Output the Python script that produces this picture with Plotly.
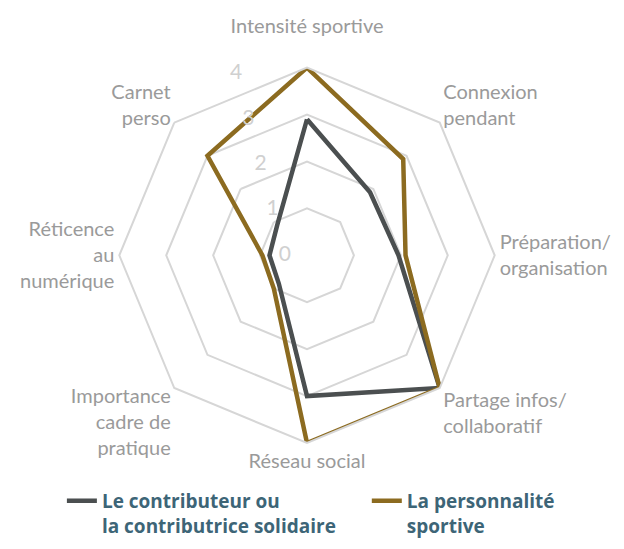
import plotly.graph_objects as go

categories = ["Intensité sportive<br> ", "Connexion<br>pendant", "Préparation/<br>organisation",
              "Partage infos/<br>collaboratif", "Réseau social", "Importance<br>cadre de<br>pratique",
              "Réticence<br>au<br>numérique", "Carnet<br>perso"]
contributeur = [2.9, 1.9, 1.95, 4.0, 3.0, 0.85, 0.8, 0.9]
personnalite = [4.0, 2.9, 2.1, 4.0, 4.0, 1.0, 0.95, 3.0]
radial_ticks = [0, 1, 2, 3, 4]

series = [
    ("Le contributeur ou<br>la contributrice solidaire", contributeur, "#4b4f50", "legend"),
    ("La personnalité<br>sportive", personnalite, "#8c6b20", "legend2"),
]

fig = go.Figure()
for name, vals, col, leg in series:
    # close the polygon by repeating the first point
    fig.add_trace(go.Scatterpolar(
        r=vals + vals[:1], theta=categories + categories[:1],
        mode="lines", name=name, legend=leg,
        line=dict(color=col, width=4.5),
    ))

# radial tick labels: linear grid snaps the radial axis to a vertex,
# so draw them on a twin (hidden) polar to get the slanted column
fig.add_trace(go.Scatterpolar(
    r=radial_ticks, theta=[345] * len(radial_ticks),
    mode="text", text=[f"{v}\u00a0\u00a0\u00a0" for v in radial_ticks],
    textposition="middle left",
    textfont=dict(size=21, color="#d0d0d0", family="Lato, sans-serif"),
    subplot="polar2", showlegend=False, hoverinfo="skip",
))

dom = dict(x=[0, 1], y=[0, 0.975])

leg_style = dict(
    orientation="h", xanchor="left", yanchor="top", y=-0.101,
    valign="top", itemwidth=30,
    font=dict(size=19, color="#3d6577", family="Open Sans, sans-serif", weight="bold"),
)

fig.update_layout(
    width=624, height=549,
    margin=dict(l=32, r=58, t=50, b=104),
    paper_bgcolor="white",
    font=dict(family="Lato, Open Sans, sans-serif"),
    polar=dict(
        domain=dom,
        bgcolor="white",
        gridshape="linear",
        angularaxis=dict(
            rotation=90, direction="clockwise",
            showgrid=False, showline=True,
            linecolor="#d6d6d6", linewidth=2,
            ticks="", tickfont=dict(size=20, color="#9a9a9a"),
        ),
        radialaxis=dict(
            range=[0, 4], tickvals=radial_ticks,
            showline=False, showgrid=True, showticklabels=False,
            gridcolor="#d6d6d6", gridwidth=2, ticks="",
        ),
    ),
    polar2=dict(
        domain=dom,
        bgcolor="rgba(0,0,0,0)",
        angularaxis=dict(rotation=90, direction="clockwise", visible=False),
        radialaxis=dict(range=[0, 4], visible=False),
    ),
    showlegend=True,
    legend=dict(x=0.041, **leg_style),
    legend2=dict(x=0.612, **leg_style),
)

fig.write_html("out.html")
